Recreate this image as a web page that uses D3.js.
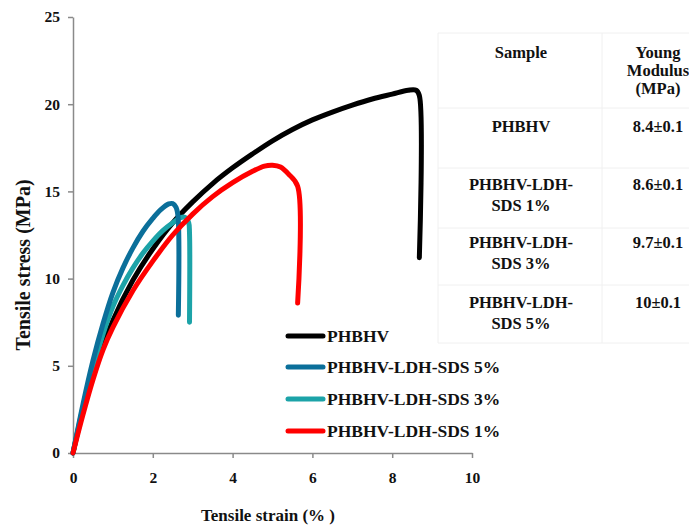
<!DOCTYPE html>
<html>
<head>
<meta charset="utf-8">
<script src="https://cdnjs.cloudflare.com/ajax/libs/d3/7.8.5/d3.min.js"></script>
<style>
body { margin: 0; background: #fff; }
</style>
</head>
<body>
<script>
/* Data
***********************************************************************/
var seriesNames = ["PHBHV", "PHBHV-LDH-SDS 5%", "PHBHV-LDH-SDS 3%", "PHBHV-LDH-SDS 1%"];
var seriesColors = ["#000000", "#0b6f9a", "#1ca3a8", "#ff0000"];

// [strain %, stress MPa]
var phbhv = [[0,0],[0.5,4.6],[1.0,7.6],[1.5,9.9],[2.0,11.7],[2.5,13.2],[3.0,14.4],[3.5,15.45],[4.0,16.35],[4.5,17.15],[5.0,17.9],[5.5,18.55],[6.0,19.1],[6.5,19.55],[7.0,19.95],[7.5,20.3],[8.0,20.58],[8.4,20.8],[8.6,20.8],[8.68,20.5],[8.68,11.2]];
var sds5 = [[0,0],[0.25,2.8],[0.5,5.3],[0.75,7.4],[1.0,9.2],[1.25,10.6],[1.5,11.75],[1.75,12.7],[2.0,13.45],[2.2,13.95],[2.4,14.28],[2.5,14.3],[2.58,14.1],[2.63,13.6],[2.64,7.9]];
var sds3 = [[0,0],[0.25,2.6],[0.5,4.8],[0.75,6.8],[1.0,8.4],[1.25,9.6],[1.5,10.6],[1.75,11.45],[2.0,12.15],[2.25,12.75],[2.5,13.2],[2.7,13.5],[2.82,13.5],[2.9,13.2],[2.92,12.6],[2.92,7.5]];
var sds1 = [[0,0],[0.25,2.2],[0.5,4.2],[0.75,5.9],[1.0,7.2],[1.5,9.3],[2.0,11.0],[2.5,12.5],[3.0,13.7],[3.5,14.7],[4.0,15.5],[4.5,16.15],[4.8,16.45],[5.0,16.5],[5.2,16.4],[5.4,16.0],[5.63,15.3],[5.63,8.6]];
var seriesData = [phbhv, sds5, sds3, sds1];
// drawing order (back to front)
var drawOrder = [0, 2, 1, 3];

var xTicks = [0, 2, 4, 6, 8, 10];
var yTicks = [0, 5, 10, 15, 20, 25];

// Table
var tableHeader = ["Sample", ["Young", "Modulus", "(MPa)"]];
var tableSamples = [["PHBHV"], ["PHBHV-LDH-", "SDS 1%"], ["PHBHV-LDH-", "SDS 3%"], ["PHBHV-LDH-", "SDS 5%"]];
var tableModulus = ["8.4±0.1", "8.6±0.1", "9.7±0.1", "10±0.1"];

/* Setup SVG
***********************************************************************/
var svgW = 689;
var svgH = 526;
var plotFont = "'Liberation Serif', 'Times New Roman', serif";

var svg = d3.select("body").append("svg")
	.attr("width", svgW)
	.attr("height", svgH);

var xScale = d3.scaleLinear().domain([0, 10]).range([73, 472]);
var yScale = d3.scaleLinear().domain([0, 25]).range([453, 17]);

/* Table (behind the plot)
***********************************************************************/
var tableG = svg.append("g").attr("id", "table");
var lineCol = "#f0f0f0";
var rowLines = [33, 108, 168, 228, 285, 343];
rowLines.forEach(function(y) {
	tableG.append("line").attr("x1", 438).attr("x2", 689).attr("y1", y).attr("y2", y)
		.attr("stroke", lineCol).attr("stroke-width", 1);
});
[438, 602].forEach(function(x) {
	tableG.append("line").attr("x1", x).attr("x2", x).attr("y1", 33).attr("y2", 343)
		.attr("stroke", lineCol).attr("stroke-width", 1);
});

var col1 = 521, col2 = 658;
function tableText(x, y, str) {
	tableG.append("text")
		.attr("x", x).attr("y", y)
		.attr("text-anchor", "middle")
		.attr("font-family", "'Liberation Serif', 'Times New Roman', serif")
		.attr("font-weight", "bold")
		.attr("font-size", "16.5px")
		.attr("fill", "#111")
		.text(str);
}
tableText(col1, 58, tableHeader[0]);
tableHeader[1].forEach(function(s, i) { tableText(col2, 58 + i * 18, s); });

var rowTops = [132, 190, 248, 308];
tableSamples.forEach(function(lines, r) {
	lines.forEach(function(s, i) { tableText(col1, rowTops[r] + i * 21, s); });
	tableText(col2, rowTops[r], tableModulus[r]);
});

/* Axes
***********************************************************************/
var axisCol = "#8a8a8a";

var yAxis = svg.append("g")
	.attr("transform", "translate(" + xScale(0) + ",0)")
	.call(d3.axisLeft(yScale).tickValues(yTicks).tickSize(5).tickPadding(8).tickSizeOuter(0));
var xAxis = svg.append("g")
	.attr("transform", "translate(0," + yScale(0) + ")")
	.call(d3.axisBottom(xScale).tickValues(xTicks).tickSize(5).tickPadding(14).tickSizeOuter(0));

[xAxis, yAxis].forEach(function(ax) {
	ax.select(".domain").attr("stroke", axisCol).attr("stroke-width", 1.5);
	ax.selectAll(".tick line").attr("stroke", axisCol).attr("stroke-width", 1.5);
	ax.selectAll(".tick text")
		.attr("font-family", plotFont)
		.attr("font-weight", "bold")
		.attr("font-size", "15.5px")
		.attr("fill", "#111");
});

svg.append("text")
	.attr("transform", "translate(30,265) rotate(-90)")
	.attr("text-anchor", "middle")
	.attr("font-family", plotFont)
	.attr("font-weight", "bold")
	.attr("font-size", "20px")
	.attr("fill", "#111")
	.text("Tensile stress (MPa)");

svg.append("text")
	.attr("x", 268).attr("y", 521)
	.attr("text-anchor", "middle")
	.attr("font-family", plotFont)
	.attr("font-weight", "bold")
	.attr("font-size", "17px")
	.attr("fill", "#111")
	.text("Tensile strain (% )");

/* Curves
***********************************************************************/
var line = d3.line()
	.x(function(d) { return xScale(d[0]); })
	.y(function(d) { return yScale(d[1]); })
	.curve(d3.curveCatmullRom.alpha(0.5));

var curveG = svg.append("g").attr("id", "curves");
drawOrder.forEach(function(i) {
	curveG.append("path")
		.attr("d", line(seriesData[i]))
		.attr("fill", "none")
		.attr("stroke", seriesColors[i])
		.attr("stroke-width", 5)
		.attr("stroke-linecap", "round")
		.attr("stroke-linejoin", "round");
});

/* Legend
***********************************************************************/
var legendG = svg.append("g").attr("id", "legend");
var legendY = [336, 367, 399, 431];
seriesNames.forEach(function(name, i) {
	legendG.append("line")
		.attr("x1", 288).attr("x2", 323)
		.attr("y1", legendY[i]).attr("y2", legendY[i])
		.attr("stroke", seriesColors[i])
		.attr("stroke-width", 5)
		.attr("stroke-linecap", "round");
	legendG.append("text")
		.attr("x", 327).attr("y", legendY[i] + 6)
		.attr("font-family", plotFont)
		.attr("font-weight", "bold")
		.attr("font-size", "17.5px")
		.attr("fill", "#111")
		.text(name);
});
</script>
</body>
</html>
